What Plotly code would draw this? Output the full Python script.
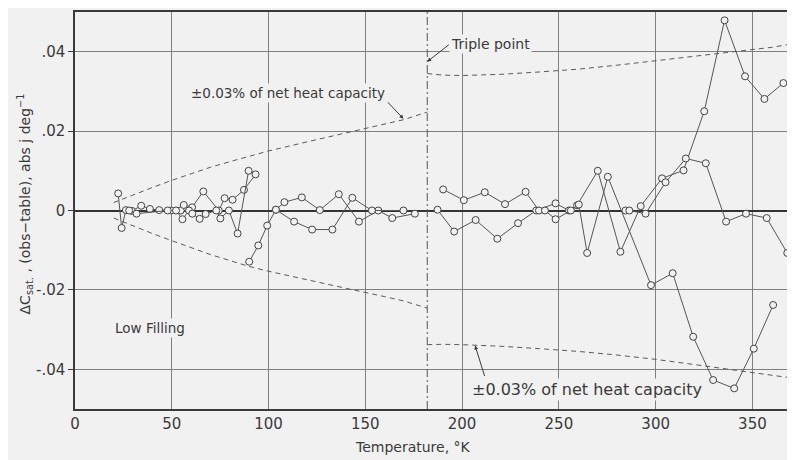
import plotly.graph_objects as go

# ---------------- data ----------------
TRIPLE_POINT = 182.0

T1 = [22.3, 24.1, 26.3, 29.4, 34.2, 38.7, 43.5, 49.6, 54.6, 56.2, 60.5, 66.3, 74.3, 77.3, 81.4, 87.3, 93.3]
V1 = [0.0043, -0.0044, 0.0001, -0.0001, 0.0012, 0.0004, 0.0001, 0.0, 0.0, 0.0014, 0.0008, 0.0048, 0.0, 0.0031, 0.0027, 0.0052, 0.0091]

T2 = [28.0, 31.8, 47.9, 52.2, 55.5, 58.9, 60.6, 64.4, 67.5, 73.0, 75.1, 79.5, 84.0, 89.7]
V2 = [0.0, -0.0008, 0.0, 0.0, -0.0022, 0.0, -0.0008, -0.0021, -0.0009, 0.0, -0.0020, 0.0, -0.0058, 0.0100]

T3 = [90.0, 94.7, 99.3, 103.8, 108.2, 117.2, 126.5, 136.3, 146.7, 156.7, 163.9, 175.6]
V3 = [-0.0129, -0.0088, -0.0038, 0.0002, 0.0021, 0.0033, 0.0001, 0.0041, -0.0028, 0.0, -0.0019, -0.0008]

T4 = [103.8, 113.2, 122.5, 133.0, 143.3, 153.4, 169.7]
V4 = [0.0002, -0.0028, -0.0048, -0.0048, 0.0032, 0.0, 0.0]

T5 = [187.3, 195.9, 207.0, 218.2, 228.9, 238.3, 248.3, 255.2, 259.4, 270.1, 281.8, 292.3, 303.3, 314.4, 325.1, 335.6, 346.2, 356.2, 366.0]
V5 = [0.0002, -0.0053, -0.0024, -0.0071, -0.0032, 0.0, 0.0018, 0.0, 0.0013, 0.0100, -0.0104, 0.0011, 0.0081, 0.0101, 0.0250, 0.0479, 0.0338, 0.0281, 0.0321]

T6 = [190.2, 200.9, 211.7, 222.2, 232.8, 239.7, 242.8, 248.3, 256.2, 260.3, 264.6, 275.3, 297.6, 308.8, 319.4, 329.7, 340.6, 350.7, 360.7]
V6 = [0.0053, 0.0026, 0.0046, 0.0016, 0.0047, 0.0, 0.0, -0.0022, 0.0, 0.0015, -0.0107, 0.0085, -0.0188, -0.0158, -0.0318, -0.0427, -0.0448, -0.0348, -0.0238]

T7 = [284.4, 286.4, 294.8, 305.1, 315.6, 325.9, 336.4, 346.7, 357.4, 368.0]
V7 = [0.0, 0.0, -0.0008, 0.0071, 0.0131, 0.0119, -0.0028, -0.0008, -0.0019, -0.0107]

ENV_T_SOLID = [20, 30, 40, 50, 60, 70, 80, 90, 100, 120, 140, 160, 170, 182]
ENV_UP_SOLID = [0.0020, 0.0040, 0.0058, 0.0076, 0.0093, 0.0109, 0.0123, 0.0137, 0.0150, 0.0173, 0.0195, 0.0217, 0.0229, 0.0248]
ENV_LO_SOLID = [-0.0019, -0.0039, -0.0058, -0.0076, -0.0094, -0.0111, -0.0126, -0.0141, -0.0153, -0.0175, -0.0196, -0.0217, -0.0228, -0.0246]

ENV_T_LIQ = [182, 190, 200, 220, 240, 260, 280, 300, 320, 340, 360, 372]
ENV_UP_LIQ = [0.0345, 0.0341, 0.0340, 0.0343, 0.0349, 0.0356, 0.0366, 0.0377, 0.0388, 0.0399, 0.0411, 0.0421]
ENV_LO_LIQ = [-0.0338, -0.0337, -0.0338, -0.0342, -0.0348, -0.0355, -0.0364, -0.0375, -0.0388, -0.0401, -0.0414, -0.0423]

X_TICKS = [0, 50, 100, 150, 200, 250, 300, 350]
X_TICK_LABELS = ["0", "50", "100", "150", "200", "250", "300", "350"]
Y_TICKS = [-0.04, -0.02, 0.0, 0.02, 0.04]
Y_TICK_LABELS = ["-.04", "-.02", "0", ".02", ".04"]

# ---------------- styling ----------------
BG = "#f1f1f1"
INK = "#3a3a3a"
GRID = "#808080"
FONT = "DejaVu Sans"

fig = go.Figure()

for tx, vy in [(ENV_T_SOLID, ENV_UP_SOLID), (ENV_T_SOLID, ENV_LO_SOLID),
               (ENV_T_LIQ, ENV_UP_LIQ), (ENV_T_LIQ, ENV_LO_LIQ)]:
    fig.add_trace(go.Scatter(x=tx, y=vy, mode="lines",
                             line=dict(color="#5a5a5a", width=1, dash="5px,4px"),
                             hoverinfo="skip", showlegend=False))

for tx, vy in [(T1, V1), (T2, V2), (T3, V3), (T4, V4), (T5, V5), (T6, V6), (T7, V7)]:
    fig.add_trace(go.Scatter(x=tx, y=vy, mode="lines+markers",
                             line=dict(color="#555555", width=1),
                             marker=dict(symbol="circle", size=7, color=BG,
                                         line=dict(color="#444444", width=1)),
                             showlegend=False))

# triple point dash-dot line
fig.add_shape(type="line", xref="x", yref="paper", x0=TRIPLE_POINT, x1=TRIPLE_POINT,
              y0=0, y1=1, line=dict(color="#555555", width=1, dash="8px,3px,2px,3px"))

# text annotations
fig.add_annotation(x=214.7, y=0.0420, text="Triple point", showarrow=False,
                   font=dict(family=FONT, size=14, color=INK), bgcolor=BG)
fig.add_annotation(x=109.8, y=0.0295, text="±0.03% of net heat capacity", showarrow=False,
                   font=dict(family=FONT, size=13.5, color=INK), bgcolor=BG)
fig.add_annotation(x=264.3, y=-0.0450, text="±0.03% of net heat capacity", showarrow=False,
                   font=dict(family=FONT, size=16, color=INK), bgcolor=BG)
fig.add_annotation(x=38.8, y=-0.0295, text="Low Filling", showarrow=False,
                   font=dict(family=FONT, size=13.5, color=INK), bgcolor=BG)

# arrows
fig.add_annotation(x=TRIPLE_POINT, y=0.0375, text="", showarrow=True, ax=23, ay=-18,
                   arrowhead=2, arrowsize=0.8, arrowwidth=1, arrowcolor=INK, standoff=0)
fig.add_annotation(x=169.7, y=0.0231, text="", showarrow=True, ax=-17, ay=-18,
                   arrowhead=2, arrowsize=0.8, arrowwidth=1, arrowcolor=INK, standoff=0)
fig.add_annotation(x=206.7, y=-0.0340, text="", showarrow=True, ax=10, ay=32,
                   arrowhead=2, arrowsize=0.8, arrowwidth=1, arrowcolor=INK, standoff=0)

# axis titles
fig.add_annotation(xref="paper", yref="paper", x=0.469, y=-0.095, xanchor="center", yanchor="middle",
                   text="Temperature, °K",
                   showarrow=False, font=dict(family=FONT, size=14, color=INK))
fig.add_annotation(xref="paper", yref="paper", x=-0.069, y=0.516, xanchor="center", yanchor="middle",
                   textangle=-90,
                   text="ΔC<sub>sat.</sub> , (obs−table), abs j deg<sup>−1</sup>",
                   showarrow=False, font=dict(family=FONT, size=14, color=INK))

fig.update_xaxes(range=[0, 372], tickvals=X_TICKS, ticktext=X_TICK_LABELS,
                 showgrid=True, gridcolor=GRID, gridwidth=1, zeroline=False,
                 showline=True, linecolor=INK, linewidth=1.5, mirror=True,
                 ticks="", tickfont=dict(family=FONT, size=15, color=INK))
fig.update_yaxes(range=[-0.05, 0.05], tickvals=Y_TICKS, ticktext=Y_TICK_LABELS,
                 showgrid=True, gridcolor=GRID, gridwidth=1,
                 zeroline=True, zerolinecolor="#333333", zerolinewidth=1.5,
                 showline=True, linecolor=INK, linewidth=1.5,
                 ticks="outside", ticklen=5, tickcolor=INK,
                 tickfont=dict(family=FONT, size=15, color=INK))

# the page body adds an 8 px margin; the figure is offset-compensated and
# slightly oversized so its background reaches the right and bottom window edges
fig.update_layout(width=795, height=460, margin=dict(l=67, r=8, t=2, b=59),
                  paper_bgcolor=BG, plot_bgcolor=BG, showlegend=False)

fig.write_html("out.html")
